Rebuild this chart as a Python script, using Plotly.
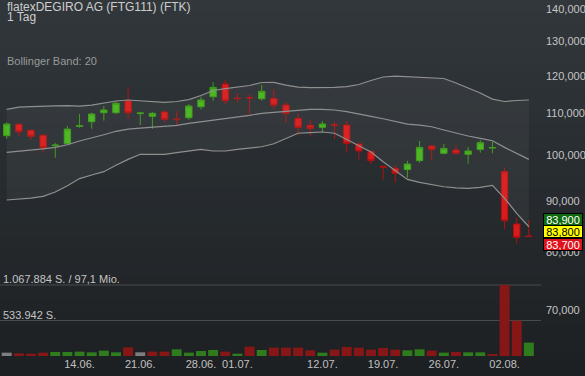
import math
import plotly.graph_objects as go

# ---------------- data ----------------
dates = ["04.06.", "07.06.", "08.06.", "09.06.", "10.06.", "11.06.", "14.06.", "15.06.", "16.06.", "17.06.",
         "18.06.", "21.06.", "22.06.", "23.06.", "24.06.", "25.06.", "28.06.", "29.06.", "30.06.", "01.07.",
         "02.07.", "05.07.", "06.07.", "07.07.", "08.07.", "09.07.", "12.07.", "13.07.", "14.07.", "15.07.",
         "16.07.", "19.07.", "20.07.", "21.07.", "22.07.", "23.07.", "26.07.", "27.07.", "28.07.", "29.07.",
         "30.07.", "02.08.", "03.08.", "04.08."]

open_ = [104.54, 107.32, 105.86, 104.64, 102.18, 102.63, 106.82, 107.97, 110.23, 110.23,
         113.32, 110.00, 109.31, 110.41, 108.60, 108.96, 111.75, 114.35, 117.76, 113.98,
         114.14, 113.82, 113.87, 112.19, 108.80, 107.07, 106.57, 107.19, 107.14, 102.56,
         100.76, 97.33, 96.97, 96.70, 98.70, 102.08, 100.39, 101.16, 100.16, 101.30,
         101.61, 96.23, 85.31, 82.98]
high = [107.82, 107.57, 105.97, 104.96, 102.80, 106.89, 109.90, 110.23, 111.93, 113.06,
        117.02, 110.41, 110.41, 110.66, 110.66, 112.46, 114.35, 118.30, 118.85, 115.26,
        115.07, 117.48, 116.31, 112.98, 110.08, 108.39, 108.14, 107.97, 108.14, 102.87,
        101.16, 97.60, 97.72, 98.67, 103.27, 102.32, 102.56, 102.25, 101.84, 103.51,
        103.11, 97.20, 86.63, 86.10]
low = [103.74, 104.54, 103.51, 100.53, 99.37, 102.50, 106.47, 106.22, 108.22, 109.90,
       108.70, 107.14, 106.22, 107.72, 107.14, 108.45, 111.07, 113.32, 112.46, 112.80,
       109.64, 113.32, 111.07, 107.72, 104.71, 104.30, 105.37, 103.74, 100.53, 99.00,
       97.95, 94.45, 93.82, 94.89, 98.24, 98.86, 100.16, 100.16, 98.01, 100.53,
       100.39, 84.26, 81.60, 82.83]
close = [107.39, 105.52, 104.40, 101.68, 102.30, 106.15, 106.97, 109.90, 110.92, 112.64,
         110.23, 110.15, 110.08, 108.55, 108.50, 111.93, 113.50, 116.85, 113.32, 113.87,
         114.03, 115.79, 112.14, 110.08, 106.57, 106.32, 107.39, 107.09, 102.72, 100.93,
         98.70, 97.24, 95.87, 97.95, 101.77, 101.30, 101.53, 100.39, 100.93, 102.87,
         101.75, 85.96, 82.73, 82.88]

bb_upper = [111.07, 111.67, 111.80, 111.99, 111.99, 112.06, 111.93, 112.19, 112.72, 113.24,
            113.50, 113.32, 113.11, 112.90, 113.11, 113.60, 114.67, 116.01, 116.53, 116.94,
            117.35, 118.17, 118.22, 117.48, 116.94, 116.80, 116.80, 116.85, 117.07, 117.62,
            118.71, 119.67, 119.94, 119.81, 119.67, 119.53, 119.26, 118.03, 116.66, 115.34,
            113.74, 113.11, 113.37, 113.50]
bb_mid = [100.62, 100.86, 101.16, 101.44, 101.77, 102.39, 103.27, 103.98, 104.78, 105.61,
          106.15, 106.40, 106.57, 106.72, 107.07, 107.57, 107.97, 108.39, 108.62, 109.06,
          109.57, 110.08, 110.33, 110.74, 110.97, 111.07, 111.07, 110.92, 110.49, 109.82,
          109.31, 108.70, 107.97, 107.39, 107.14, 106.72, 105.93, 105.13, 104.47, 103.91,
          103.34, 101.77, 100.39, 99.00]
bb_lower = [90.16, 90.35, 90.56, 90.92, 91.83, 93.17, 94.71, 95.49, 96.23, 97.65,
            99.00, 100.16, 100.16, 100.16, 100.53, 100.93, 101.30, 100.93, 100.93, 101.30,
            101.61, 101.92, 102.63, 103.91, 105.13, 105.27, 105.44, 105.13, 103.66, 102.08,
            100.69, 98.47, 96.45, 94.54, 93.91, 93.39, 92.95, 92.73, 92.60, 92.82,
            93.26, 90.50, 87.44, 84.77]

volume = [50400, 40300, 35200, 50300, 60400, 60400, 65500, 55400, 80600, 55400,
          131000, 55400, 65500, 65500, 100700, 50400, 75500, 90600, 65500, 35200,
          141000, 90600, 125900, 125900, 125900, 85600, 50400, 95700, 136000, 125900,
          95700, 120800, 95700, 85600, 100700, 80600, 50400, 60400, 55400, 55400,
          30200, 1067884, 531000, 201000]
vol_dir = ["flat", "down", "down", "down", "up", "up", "up", "up", "up", "up",
           "down", "flat", "down", "down", "up", "up", "up", "up", "down", "up",
           "down", "up", "down", "down", "down", "down", "up", "down", "down", "down",
           "down", "down", "down", "up", "up", "down", "up", "down", "up", "up",
           "down", "down", "down", "up"]

tick_dates = ["14.06.", "21.06.", "28.06.", "01.07.", "12.07.", "19.07.", "26.07.", "02.08."]
price_ticks = [70, 80, 90, 100, 110, 120, 130, 140]
quotes = [83.9, 83.8, 83.7]

title_text = "flatexDEGIRO AG (FTG111) (FTK)"
period_text = "1 Tag"
indicator_text = "Bollinger Band: 20"
vol_max_text = "1.067.884 S. / 97,1 Mio."
vol_half_text = "533.942 S."

# ---------------- figure ----------------
FONT = "Liberation Sans, Arial, sans-serif"
W, H = 585, 376
ML, MR, MT, MB = 0, 44, 0, 20
PH = H - MT - MB  # plot height in px
PW = W - ML - MR
x = list(range(len(dates)))

vmax = max(volume)
vol_top_px = 71.0  # pixel height of the biggest volume bar

fig = go.Figure()

band_col = "#8f8f8f"
fig.add_trace(go.Scatter(x=x, y=bb_lower, mode="lines", line=dict(color=band_col, width=1.2),
                         hoverinfo="skip", showlegend=False))
fig.add_trace(go.Scatter(x=x, y=bb_upper, mode="lines", line=dict(color=band_col, width=1.2),
                         fill="tonexty", fillcolor="rgba(255,255,255,0.045)",
                         hoverinfo="skip", showlegend=False))
fig.add_trace(go.Scatter(x=x, y=bb_mid, mode="lines", line=dict(color=band_col, width=1.2),
                         hoverinfo="skip", showlegend=False))

vcols = {"up": "#2f7c1e", "down": "#871616", "flat": "#7e7e7e"}
fig.add_trace(go.Bar(x=x, y=volume, yaxis="y2", marker=dict(color=[vcols[d] for d in vol_dir], line_width=0),
                     hoverinfo="skip", showlegend=False))

fig.add_trace(go.Candlestick(
    x=x, open=open_, high=high, low=low, close=close,
    increasing=dict(line=dict(color="#3a9a16", width=1), fillcolor="#47b41d"),
    decreasing=dict(line=dict(color="#b01212", width=1), fillcolor="#d91b1b"),
    whiskerwidth=0, hoverinfo="skip", showlegend=False))

# background gradient strips (paper level)
shapes = []
n = 30
top_c = (49, 55, 59)
bot_c = (29, 32, 35)
y_lo = -MB / PH
y_hi = 1.0
for k in range(n):
    t = k / (n - 1)
    c = tuple(round(top_c[j] + (bot_c[j] - top_c[j]) * t) for j in range(3))
    y1 = y_hi - (y_hi - y_lo) * k / n
    y0 = y_hi - (y_hi - y_lo) * (k + 1) / n
    shapes.append(dict(type="rect", xref="paper", yref="paper", x0=-0.01, x1=1.2,
                       y0=y0 - 0.002, y1=y1 + 0.002, fillcolor="rgb(%d,%d,%d)" % c,
                       line_width=0, layer="below"))
# volume guide lines
for lvl in (vmax, vmax / 2):
    shapes.append(dict(type="line", xref="paper", yref="y2", x0=0, x1=1, y0=lvl, y1=lvl,
                       line=dict(color="#464b4f", width=1), layer="below"))

ann = []
def px_to_paper(ypx):
    return (PH - ypx) / PH

ann.append(dict(text=title_text, xref="paper", yref="paper", x=5 / PW, y=px_to_paper(7),
                xanchor="left", yanchor="middle", showarrow=False,
                font=dict(family=FONT, size=12, color="#cdcdcd")))
ann.append(dict(text=period_text, xref="paper", yref="paper", x=5 / PW, y=px_to_paper(17.5),
                xanchor="left", yanchor="middle", showarrow=False,
                font=dict(family=FONT, size=12, color="#cdcdcd")))
ann.append(dict(text=indicator_text, xref="paper", yref="paper", x=5 / PW, y=px_to_paper(61),
                xanchor="left", yanchor="middle", showarrow=False,
                font=dict(family=FONT, size=11, color="#9a9a9a")))
ann.append(dict(text=vol_max_text, xref="paper", yref="y2", x=1 / PW, y=vmax, yshift=6,
                xanchor="left", yanchor="middle", showarrow=False,
                font=dict(family=FONT, size=11, color="#c4c4c4")))
ann.append(dict(text=vol_half_text, xref="paper", yref="y2", x=1 / PW, y=vmax / 2, yshift=6,
                xanchor="left", yanchor="middle", showarrow=False,
                font=dict(family=FONT, size=11, color="#c4c4c4")))

qstyle = [("#0f6a10", "#ffffff", 12.6), ("#ffff00", "#000000", 0), ("#e0121c", "#ffffff", -12.6)]
mid_q = quotes[1]
for q, (bg, fc, sh) in zip(quotes, qstyle):
    ann.append(dict(text=("%.3f" % q).replace(".", ","), xref="paper", yref="y",
                    x=(PW + 2) / PW, y=math.log10(mid_q), yshift=sh,
                    xanchor="left", yanchor="middle", showarrow=False, width=38, height=11,
                    bgcolor=bg, bordercolor="#000000", borderwidth=1, borderpad=0,
                    font=dict(family=FONT, size=11, color=fc)))

log_top = 2 + 155 / 1000.0
log_bot = 2 - (PH - 155) / 1000.0

fig.update_layout(
    width=W, height=H,
    margin=dict(l=ML, r=MR, t=MT, b=MB, autoexpand=False),
    paper_bgcolor="#282c30", plot_bgcolor="rgba(0,0,0,0)",
    separators=",.",
    font=dict(family=FONT, size=11, color="#c4c4c4"),
    showlegend=False, bargap=0.18, boxgap=0.25,
    shapes=shapes, annotations=ann,
    xaxis=dict(range=[-0.55, 44.0], showgrid=False, zeroline=False, showline=False,
               tickvals=[dates.index(d) for d in tick_dates], ticktext=tick_dates,
               ticks="", tickfont=dict(family=FONT, size=11, color="#c0c0c0"),
               rangeslider=dict(visible=False), fixedrange=True, automargin=False),
    yaxis=dict(type="log", range=[log_bot, log_top], side="right", showgrid=False,
               zeroline=False, showline=False, tickvals=price_ticks, tickformat=".3f",
               ticks="", ticklabelstandoff=4, automargin=False,
               tickfont=dict(family=FONT, size=11, color="#c4c4c4")),
    yaxis2=dict(overlaying="y", range=[0, vmax * PH / vol_top_px], visible=False,
                showgrid=False, zeroline=False),
)

fig.write_html("out.html", config={"displayModeBar": False},
               post_script="document.body.style.margin='0';document.body.style.padding='0';")
